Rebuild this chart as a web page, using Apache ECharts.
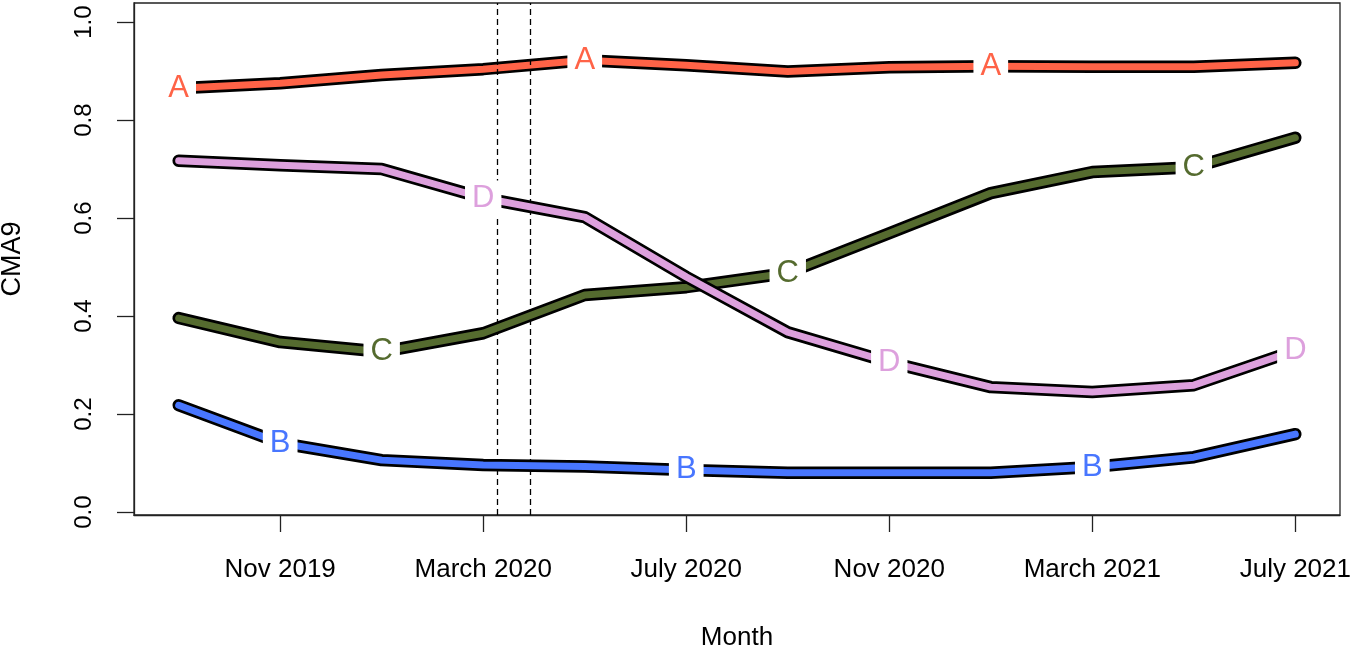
<!DOCTYPE html>
<html>
<head>
<meta charset="utf-8">
<script src="https://cdn.jsdelivr.net/npm/echarts@6/dist/echarts.min.js"></script>
<style>html,body{margin:0;padding:0;background:#fff}#c{width:1355px;height:650px}</style>
</head>
<body>
<div id="c"></div>
<script>
// Months since Sep 2019 (bimonthly observations Sep 2019 .. Jul 2021)
const monthIndex = [0, 2, 4, 6, 8, 10, 12, 14, 16, 18, 20, 22];
const seriesA = [0.865, 0.875, 0.892, 0.904, 0.922, 0.912, 0.899, 0.908, 0.910, 0.909, 0.909, 0.917];
const seriesB = [0.218, 0.141, 0.106, 0.096, 0.093, 0.086, 0.080, 0.080, 0.080, 0.092, 0.112, 0.159];
const seriesC = [0.396, 0.347, 0.327, 0.365, 0.443, 0.459, 0.488, 0.569, 0.651, 0.694, 0.704, 0.764];
const seriesD = [0.717, 0.708, 0.700, 0.641, 0.602, 0.480, 0.367, 0.306, 0.255, 0.245, 0.259, 0.330];
const seriesNames = ['A', 'B', 'C', 'D'];
// indices of observations where each curve's letter label sits
const labelIdxA = [0, 4, 8];
const labelIdxB = [1, 5, 9];
const labelIdxC = [2, 6, 10];
const labelIdxD = [3, 7, 11];
const xTickValues = [2, 6, 10, 14, 18, 22];
const xTickLabels = ['Nov 2019', 'March 2020', 'July 2020', 'Nov 2020', 'March 2021', 'July 2021'];
const yTickValues = [0, 0.2, 0.4, 0.6, 0.8, 1.0];
const eventMonths = [6.28, 6.93]; // dashed reference dates in March 2020

const colors = ['#FF6347', '#4876FF', '#556B2F', '#DDA0DD'];
const FONT = 'Liberation Sans, Arial, sans-serif';

const allValues = [seriesA, seriesB, seriesC, seriesD];
const allLabelIdx = [labelIdxA, labelIdxB, labelIdxC, labelIdxD];

const series = [];
allValues.forEach((vals, i) => {
  const pts = monthIndex.map((m, j) => [m, vals[j]]);
  series.push({
    type: 'line', data: pts, symbol: 'none', silent: true, z: 2 + i * 2,
    lineStyle: { color: '#000', width: 12.5, cap: 'round', join: 'round' }
  });
  series.push({
    type: 'line', data: pts, symbol: 'none', silent: true, z: 3 + i * 2,
    lineStyle: { color: colors[i], width: 7, cap: 'round', join: 'round' }
  });
});
allValues.forEach((vals, i) => {
  series.push({
    type: 'scatter', silent: true, z: 20,
    data: allLabelIdx[i].map(j => [monthIndex[j], vals[j]]),
    symbolSize: 1,
    itemStyle: { color: 'rgba(0,0,0,0)', opacity: 1 },
    emphasis: { disabled: true },
    label: {
      show: true, position: 'inside', formatter: seriesNames[i], opacity: 1,
      color: colors[i], fontSize: 31, fontFamily: FONT,
      backgroundColor: '#fff', padding: [2, 7, 2, 7], lineHeight: 31
    }
  });
});
series.push({
  type: 'line', data: [], silent: true, z: 30,
  markLine: {
    silent: true, symbol: 'none', animation: false,
    label: { show: false },
    lineStyle: { color: '#000', width: 1.3, type: [6, 4] },
    data: eventMonths.map(m => ({ xAxis: m }))
  }
});

const chart = echarts.init(document.getElementById('c'));
chart.setOption({
  animation: false,
  backgroundColor: '#fff',
  grid: { left: 134, right: 15, top: 3, bottom: 135, show: true, borderColor: '#222', borderWidth: 1.3,
          backgroundColor: 'transparent', containLabel: false, outerBoundsMode: 'none' },
  xAxis: {
    type: 'value', min: -0.88, max: 22.88,
    splitLine: { show: false },
    axisLine: { show: true, onZero: false, lineStyle: { color: '#222', width: 1.3 } },
    axisTick: { show: true, length: 17, customValues: xTickValues, lineStyle: { color: '#222', width: 1.3 } },
    axisLabel: {
      customValues: xTickValues, color: '#000', fontSize: 26, fontFamily: FONT, margin: 42,
      formatter: v => { const k = xTickValues.indexOf(v); return k >= 0 ? xTickLabels[k] : ''; }
    },
    name: 'Month', nameLocation: 'middle', nameGap: 110,
    nameTextStyle: { color: '#000', fontSize: 26, fontFamily: FONT }
  },
  yAxis: {
    type: 'value', min: -0.006, max: 1.039,
    splitLine: { show: false },
    axisLine: { show: true, onZero: false, lineStyle: { color: '#222', width: 1.3 } },
    axisTick: { show: true, length: 17, customValues: yTickValues, lineStyle: { color: '#222', width: 1.3 } },
    axisLabel: {
      customValues: yTickValues, color: '#000', fontSize: 24, fontFamily: FONT, margin: 38, rotate: 90,
      formatter: v => v.toFixed(1)
    },
    name: 'CMA9', nameLocation: 'middle', nameGap: 108, nameRotate: 90,
    nameTextStyle: { color: '#000', fontSize: 27, fontFamily: FONT }
  },
  series: series
});
</script>
</body>
</html>
